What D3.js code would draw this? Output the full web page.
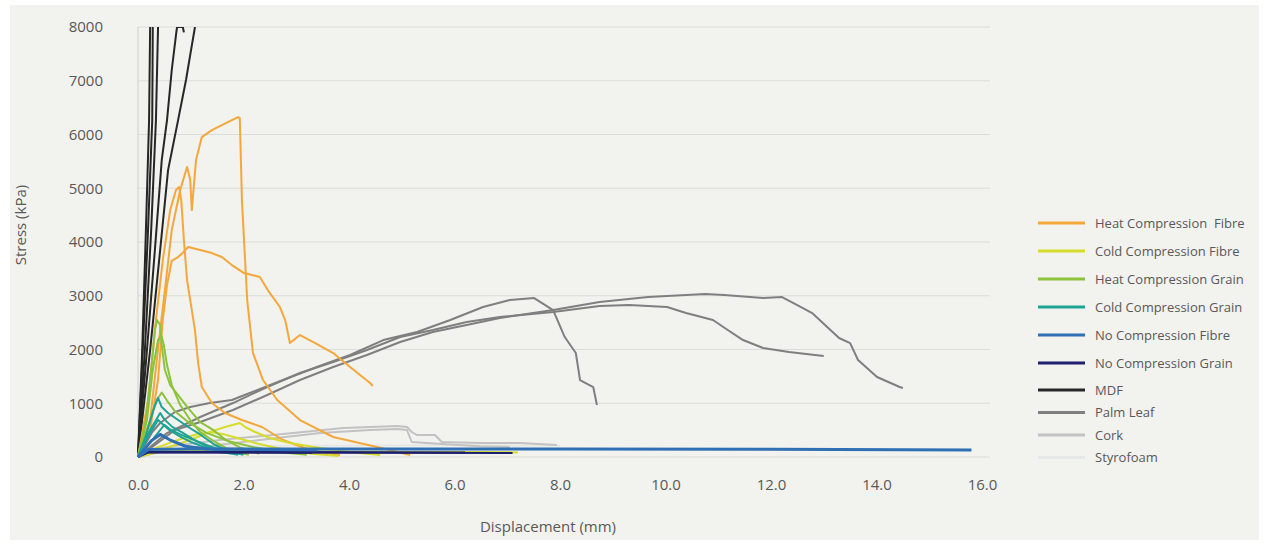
<!DOCTYPE html>
<html>
<head>
<meta charset="utf-8">
<script src="https://cdn.jsdelivr.net/npm/d3@7"></script>
<style>
  body { margin: 0; background: #fff; }
  text { font-family: "Open Sans", sans-serif; fill: #595959; }
</style>
</head>
<body>
<script>
// page size
var width = 1267,
    height = 544;

// series names + colours (legend order)
const seriesNames = ['Heat Compression  Fibre', 'Cold Compression Fibre', 'Heat Compression Grain',
  'Cold Compression Grain', 'No Compression Fibre', 'No Compression Grain', 'MDF', 'Palm Leaf', 'Cork', 'Styrofoam'];
const seriesColors = ['#f4a73b', '#d6dc2a', '#8cc23c', '#1fa394', '#2f6fb4', '#1e1f6e', '#262626', '#7f7f7f', '#c2c2c2', '#e6e8e8'];

const xTicks = [0, 2, 4, 6, 8, 10, 12, 14, 16];
const yTicks = [0, 1000, 2000, 3000, 4000, 5000, 6000, 7000, 8000];

// each series = list of test curves, [displacement mm, stress kPa]
const heatFibre = [
  [[0,0],[0.23,688],[0.42,2362],[0.51,3106],[0.64,4222],[0.80,4966],[0.93,5394],[0.99,5152],[1.02,4594],[1.06,5059],[1.10,5524],[1.21,5952],[1.40,6082],[1.59,6175],[1.78,6268],[1.90,6324],[1.93,6305],[1.97,4780],[2.03,3664],[2.07,2920],[2.18,1934],[2.37,1432],[2.64,1060],[3.07,688],[3.70,372],[4.53,186],[5.16,37]],
  [[0,0],[0.19,1060],[0.34,2548],[0.47,3664],[0.61,4594],[0.72,4966],[0.78,5022],[0.82,4780],[0.87,4036],[0.93,3292],[0.99,2920],[1.08,2362],[1.14,1748],[1.21,1302],[1.40,1004],[1.65,818],[1.97,688],[2.35,558],[2.75,316],[3.26,130],[3.83,37]],
  [[0,0],[0.23,502],[0.38,1432],[0.47,2548],[0.55,3200],[0.64,3650],[0.76,3720],[0.85,3800],[0.95,3906],[1.18,3850],[1.40,3794],[1.59,3720],[1.78,3571],[2.01,3422],[2.16,3385],[2.31,3348],[2.46,3106],[2.69,2790],[2.79,2548],[2.88,2120],[3.07,2269],[3.36,2120],[3.70,1934],[4.02,1674],[4.40,1376],[4.45,1321]]
];
const coldFibre = [
  [[0,0],[0.42,130],[0.99,316],[1.36,465],[1.65,558],[1.93,632],[2.03,558],[2.22,465],[2.50,353],[2.88,260],[3.45,167],[4.02,93],[4.59,37]],
  [[0,0],[0.3,150],[0.7,300],[1.1,420],[1.4,460],[1.6,430],[1.9,350],[2.3,240],[2.8,130],[3.3,60],[3.8,20]],
  [[0,0],[0.5,120],[2,110],[4,100],[6,95],[7.2,85]]
];
const heatGrain = [
  [[0,0],[0.15,688],[0.25,1618],[0.32,2362],[0.36,2548],[0.42,2455],[0.45,2083],[0.51,1618],[0.61,1339],[0.76,1153],[0.95,911],[1.18,650],[1.40,520],[1.65,330],[1.93,180],[2.3,60]],
  [[0,0],[0.17,688],[0.28,1618],[0.38,2176],[0.44,2269],[0.49,2083],[0.55,1711],[0.64,1339],[0.80,967],[0.99,688],[1.18,465],[1.46,279],[1.74,130],[2.1,40]],
  [[0,0],[0.2,600],[0.35,1050],[0.45,1200],[0.55,1050],[0.7,850],[0.95,650],[1.3,450],[1.7,300],[2.2,180],[2.8,80],[3.2,40]]
];
const coldGrain = [
  [[0,0],[0.15,400],[0.3,900],[0.38,1100],[0.45,930],[0.57,818],[0.76,688],[0.95,558],[1.14,446],[1.46,223],[1.74,93],[2.0,40]],
  [[0,0],[0.2,450],[0.42,820],[0.5,700],[0.65,560],[0.85,450],[1.05,330],[1.3,200],[1.6,90],[1.9,40]],
  [[0,0],[0.2,400],[0.38,690],[0.48,600],[0.6,500],[0.8,380],[1.0,280],[1.3,170],[1.6,80]],
  [[0,0],[0.3,350],[0.5,600],[0.6,520],[0.8,420],[1.1,300],[1.5,150],[1.9,60]]
];
const noCompFibre = [
  [[0,0],[0.25,300],[0.42,420],[0.6,320],[0.9,200],[1.3,150],[3.4,130]],
  [[0,0],[0.2,140],[1,150],[4,150],[8,150],[12,145],[15.8,130]]
];
const noCompGrain = [
  [[0,0],[0.1,90],[1,90],[3.3,80]],
  [[0,0],[0.1,95],[3,95],[6.2,85]],
  [[0,0],[0.2,85],[4,80],[7.1,75]]
];
const mdf = [
  [[0,0],[0.08,1990],[0.15,4222],[0.21,6268],[0.23,8000]],
  [[0,0],[0.09,1990],[0.19,4222],[0.27,6268],[0.28,8000]],
  [[0,0],[0.13,1990],[0.25,4222],[0.34,6268],[0.38,8000]],
  [[0,0],[0.17,1990],[0.32,3850],[0.45,5524],[0.55,6268],[0.64,7200],[0.72,7850],[0.74,8000],[0.85,8000],[0.87,7900]],
  [[0,0],[0.23,1990],[0.42,3850],[0.57,5338],[0.76,6268],[0.91,7014],[0.99,7480],[1.08,8000]]
];
const palmLeaf = [
  [[0,0],[0.13,223],[0.27,465],[0.42,632],[0.70,837],[0.99,930],[1.36,1004],[1.78,1060],[2.12,1190],[2.75,1432],[3.39,1674],[4.02,1897],[4.65,2176],[5.29,2325],[5.92,2548],[6.54,2790],[7.05,2920],[7.51,2957],[7.87,2734],[8.09,2232],[8.30,1934],[8.38,1432],[8.63,1302],[8.70,967]],
  [[0,0],[0.23,186],[0.55,446],[1.18,744],[1.80,1004],[2.45,1302],[3.07,1562],[3.70,1767],[4.34,1990],[4.97,2232],[5.59,2362],[6.23,2511],[6.86,2604],[7.87,2697],[8.75,2809],[9.31,2827],[10.03,2790],[10.39,2678],[10.90,2548],[11.18,2362],[11.47,2176],[11.85,2027],[12.34,1953],[13.0,1878]],
  [[0,0],[0.32,223],[0.70,502],[1.18,651],[1.80,874],[2.45,1153],[3.07,1432],[3.70,1674],[4.34,1897],[4.97,2139],[5.59,2325],[6.23,2455],[6.86,2585],[7.87,2734],[8.75,2883],[9.67,2976],[10.75,3032],[11.11,3013],[11.85,2957],[12.21,2976],[12.57,2790],[12.78,2678],[13.29,2214],[13.50,2120],[13.65,1804],[14.01,1488],[14.44,1302],[14.50,1283]]
];
const cork = [
  [[0,0],[0.23,130],[0.80,223],[1.55,316],[2.56,409],[3.13,465],[3.89,539],[4.40,558],[4.91,577],[5.10,558],[5.19,465],[5.29,409],[5.63,409],[5.76,279],[6.48,260],[7.24,260],[7.94,223]],
  [[0,0],[0.42,93],[1.18,186],[2.31,316],[3.45,446],[4.40,502],[4.91,521],[5.10,502],[5.19,279],[5.76,240],[6.48,200],[7.05,186]]
];
const styrofoam = [
  [[0,0],[0.5,200],[3,210],[6,220],[8,210]]
];

const allSeries = [heatFibre, coldFibre, heatGrain, coldGrain, noCompFibre, noCompGrain, mdf, palmLeaf, cork, styrofoam];

// plot frame
const plotLeft = 138, plotRight = 982, plotTop = 27, plotBottom = 457;

var svg = d3.select('body').append('svg')
    .attr('width', width)
    .attr('height', height);

svg.append('rect')
    .attr('x', 10).attr('y', 5)
    .attr('width', 1249).attr('height', 535)
    .attr('fill', '#f2f2ee');

var x = d3.scaleLinear().domain([0, 16]).range([plotLeft, plotRight]);
var y = d3.scaleLinear().domain([0, 8000]).range([plotBottom, plotTop]);

// gridlines
svg.append('g')
    .selectAll('line')
    .data(yTicks)
    .enter()
    .append('line')
    .attr('x1', plotLeft)
    .attr('x2', 990)
    .attr('y1', d => y(d))
    .attr('y2', d => y(d))
    .attr('stroke', '#dcdcda')
    .attr('stroke-width', 1.2);

svg.append('line')
    .attr('x1', plotLeft).attr('x2', plotLeft)
    .attr('y1', plotTop).attr('y2', plotBottom)
    .attr('stroke', '#d4d4d2')
    .attr('stroke-width', 1.2);

// y axis labels
var yAxis = svg.append('g')
    .attr('transform', 'translate(' + (plotLeft - 35) + ',0)')
    .call(d3.axisLeft(y).tickValues(yTicks).tickFormat(d3.format('d')).tickSize(0).tickPadding(0));
yAxis.select('.domain').remove();
yAxis.selectAll('text').attr('font-size', 15).attr('font-family', '"Open Sans", sans-serif').attr('fill', '#595959');

// x axis labels
var xAxis = svg.append('g')
    .attr('transform', 'translate(0,' + (plotBottom + 22) + ')')
    .call(d3.axisBottom(x).tickValues(xTicks).tickFormat(d3.format('.1f')).tickSize(0).tickPadding(0));
xAxis.select('.domain').remove();
xAxis.selectAll('text').attr('font-size', 15).attr('font-family', '"Open Sans", sans-serif').attr('fill', '#595959');

// axis titles
svg.append('text')
    .attr('x', 548).attr('y', 532)
    .attr('text-anchor', 'middle')
    .attr('font-size', 15)
    .text('Displacement (mm)');

svg.append('text')
    .attr('transform', 'translate(26,225) rotate(-90)')
    .attr('text-anchor', 'middle')
    .attr('font-size', 15)
    .text('Stress (kPa)');

// curves
svg.append('clipPath').attr('id', 'plotclip')
    .append('rect').attr('x', plotLeft - 2).attr('y', plotTop).attr('width', plotRight - plotLeft + 10).attr('height', plotBottom - plotTop + 4);

var line = d3.line().x(d => x(d[0])).y(d => y(d[1]));
var drawOrder = [9, 8, 7, 6, 0, 1, 2, 3, 5, 4];
var plot = svg.append('g').attr('clip-path', 'url(#plotclip)');

drawOrder.forEach(function(si) {
  plot.append('g')
    .selectAll('path')
    .data(allSeries[si])
    .enter()
    .append('path')
    .attr('d', line)
    .attr('fill', 'none')
    .attr('stroke', seriesColors[si])
    .attr('stroke-width', si == 4 ? 3 : 2)
    .attr('stroke-linejoin', 'round');
});

// legend
var legendY = function(i) { return i < 6 ? 223 + i * 28 : 390 + (i - 6) * 22.5; };
var legend = svg.append('g');

legend.selectAll('line')
    .data(seriesNames)
    .enter()
    .append('line')
    .attr('x1', 1038)
    .attr('x2', 1085)
    .attr('y1', (d, i) => legendY(i))
    .attr('y2', (d, i) => legendY(i))
    .attr('stroke', (d, i) => seriesColors[i])
    .attr('stroke-width', 3);

legend.selectAll('text')
    .data(seriesNames)
    .enter()
    .append('text')
    .attr('x', 1095)
    .attr('y', (d, i) => legendY(i) + 4.5)
    .attr('font-size', 13)
    .style('white-space', 'pre')
    .text(d => d);
</script>
</body>
</html>
